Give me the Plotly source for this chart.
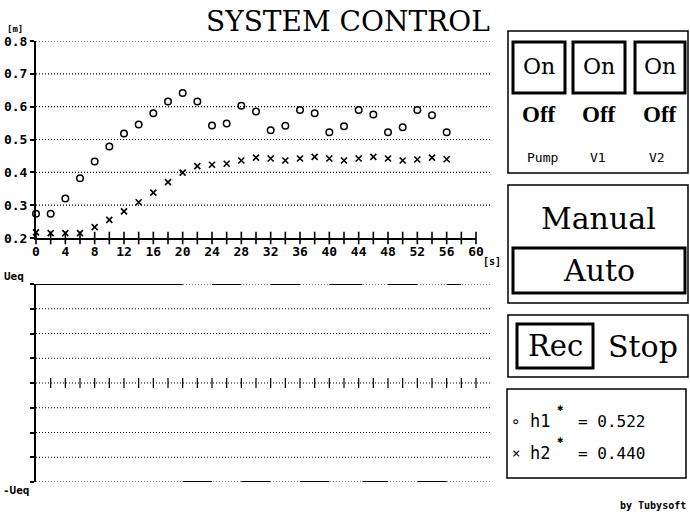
import plotly.graph_objects as go

# ---------------- data ----------------
t = [0, 2, 4, 6, 8, 10, 12, 14, 16, 18, 20, 22, 24, 26, 28,
     30, 32, 34, 36, 38, 40, 42, 44, 46, 48, 50, 52, 54, 56]
h1 = [0.274, 0.274, 0.320, 0.382, 0.433, 0.479, 0.518, 0.546, 0.580, 0.616,
      0.642, 0.616, 0.543, 0.549, 0.603, 0.585, 0.528, 0.542, 0.590, 0.580,
      0.522, 0.540, 0.590, 0.576, 0.522, 0.537, 0.590, 0.574, 0.522]
h2 = [0.217, 0.215, 0.215, 0.215, 0.233, 0.255, 0.281, 0.309, 0.338, 0.370,
      0.399, 0.419, 0.423, 0.426, 0.436, 0.445, 0.442, 0.436, 0.442, 0.447,
      0.442, 0.436, 0.442, 0.447, 0.442, 0.436, 0.439, 0.445, 0.440]
# control signal (bang-bang, +Ueq / -Ueq)
u_switch = [0, 20, 24, 28, 32, 36, 40, 44.5, 48, 52, 56, 58]
u_level = [1, -1, 1, -1, 1, -1, 1, -1, 1, -1, 1]

x_ticks = list(range(0, 61, 4))
x_minor = list(range(0, 61, 2))
y_ticks = [0.2, 0.3, 0.4, 0.5, 0.6, 0.7, 0.8]
y_ticklabels = ["0.2", "0.3", "0.4", "0.5", "0.6", "0.7", "0.8"]
u_grid = [-1, -0.75, -0.5, -0.25, 0, 0.25, 0.5, 0.75, 1]

# ---------------- layout helpers ----------------
W, H = 690, 513
def px(x): return x / W
def py(y): return 1 - y / H

MONO = "DejaVu Sans Mono"
SERIF = "DejaVu Serif"
TIMES = "Liberation Serif"

fig = go.Figure()

# top chart
fig.add_trace(go.Scatter(x=t, y=h1, mode="markers", xaxis="x", yaxis="y",
                         marker=dict(symbol="circle-open", size=6.5, color="black",
                                     line=dict(width=1.5, color="black")),
                         cliponaxis=False))
fig.add_trace(go.Scatter(x=t, y=h2, mode="markers", xaxis="x", yaxis="y",
                         marker=dict(symbol="x-thin-open", size=6, color="black",
                                     line=dict(width=1.6, color="black")),
                         cliponaxis=False))
fig.add_trace(go.Scatter(x=x_minor, y=[0.2] * len(x_minor), mode="markers",
                         xaxis="x", yaxis="y",
                         marker=dict(symbol="line-ns-open", size=9, color="black",
                                     line=dict(width=1.6, color="black")),
                         cliponaxis=False))

# bottom chart
seg_x, seg_y = [], []
for i, lv in enumerate(u_level):
    seg_x += [u_switch[i], u_switch[i + 1], None]
    seg_y += [lv, lv, None]
fig.add_trace(go.Scatter(x=seg_x, y=seg_y, mode="lines", xaxis="x2", yaxis="y2",
                         line=dict(color="black", width=2), cliponaxis=False))
mid_ticks = x_minor[1:]
fig.add_trace(go.Scatter(x=mid_ticks, y=[0] * len(mid_ticks), mode="markers",
                         xaxis="x2", yaxis="y2",
                         marker=dict(symbol="line-ns-open", size=7, color="black",
                                     line=dict(width=1.2, color="black")),
                         cliponaxis=False))

shapes = []
# gridlines
for v in y_ticks[1:]:
    shapes.append(dict(type="line", xref="paper", yref="y", x0=px(36), x1=px(490),
                       y0=v, y1=v, line=dict(color="black", width=1.2, dash="1px,2px"),
                       layer="below"))
for v in u_grid:
    shapes.append(dict(type="line", xref="paper", yref="y2", x0=px(36), x1=px(490),
                       y0=v, y1=v, line=dict(color="black", width=1.2, dash="1px,2px"),
                       layer="below"))

def rect(x0, y0, x1, y1, w):
    shapes.append(dict(type="rect", xref="paper", yref="paper",
                       x0=px(x0), x1=px(x1), y0=py(y1), y1=py(y0),
                       line=dict(color="black", width=w)))

# right panels
rect(508, 31, 688, 173, 1.5)
rect(513, 42, 565, 93, 3)
rect(573, 42, 625, 93, 3)
rect(635, 42, 685, 93, 3)
rect(508, 185, 688, 303, 1.5)
rect(513, 248, 685, 293, 3)
rect(508, 315, 688, 377, 1.5)
rect(517, 324, 593, 368, 3)
rect(507, 389, 686, 478, 1.5)

annotations = []
def ann(text, x, y, size, family=MONO, xanchor="center", bold=False):
    annotations.append(dict(text=text, x=px(x), y=py(y), xref="paper", yref="paper",
                            xanchor=xanchor, yanchor="middle", showarrow=False,
                            font=dict(family=family, size=size, color="black",
                                      weight="bold" if bold else "normal")))

ann("SYSTEM CONTROL", 348, 21, 28, SERIF)
ann("[m]", 5, 29, 9, MONO, "left", True)
ann("[s]", 481, 261, 10, MONO, "left", True)
ann("Ueq", 2, 276, 11, MONO, "left", True)
ann("-Ueq", 1, 490, 11, MONO, "left", True)

for cx in (539, 599, 660):
    ann("On", cx, 67, 22, SERIF)
    ann("Off", cx, 115, 23, TIMES, bold=True)
ann("Pump", 542, 157, 13, MONO)
ann("V1", 598, 157, 13, MONO)
ann("V2", 657, 157, 13, MONO)

ann("Manual", 598, 218, 30, SERIF)
ann("Auto", 599, 270, 30, SERIF)
ann("Rec", 555, 346, 29, SERIF)
ann("Stop", 643, 346, 30, SERIF)

ann("∘", 516, 421, 16, MONO)
ann("h1", 528, 421, 17, MONO, "left")
ann("✱", 555, 407, 10, MONO, "left", True)
ann("= %.3f" % h1[-1], 576, 421, 16, MONO, "left")
ann("×", 516, 453, 14, MONO)
ann("h2", 528, 453, 17, MONO, "left")
ann("✱", 555, 439, 10, MONO, "left", True)
ann("= %.3f" % h2[-1], 576, 453, 16, MONO, "left")

ann("by Tubysoft", 688, 505, 10, MONO, "right", True)

tickfont = dict(family=MONO, size=13, color="black", weight="bold")

fig.update_layout(
    template="none",
    width=W, height=H, margin=dict(l=0, r=0, t=0, b=0, pad=0),
    paper_bgcolor="white", plot_bgcolor="white", showlegend=False,
    xaxis=dict(domain=[px(36), px(476)], range=[0, 60], anchor="y",
               tickvals=x_ticks, ticks="", showline=True, linewidth=2,
               linecolor="black", showgrid=False, zeroline=False,
               tickfont=tickfont, fixedrange=True, automargin=False),
    yaxis=dict(domain=[py(238), py(41)], range=[0.2, 0.8], anchor="x",
               tickvals=y_ticks, ticktext=y_ticklabels, ticks="outside",
               ticklen=4, tickwidth=2, tickcolor="black", showline=True,
               linewidth=2, linecolor="black", showgrid=False, zeroline=False,
               tickfont=tickfont, fixedrange=True, automargin=False),
    xaxis2=dict(domain=[px(36), px(476)], range=[0, 60], anchor="y2",
                visible=False, fixedrange=True, automargin=False),
    yaxis2=dict(domain=[py(482), py(284)], range=[-1, 1], anchor="x2",
                tickvals=u_grid, showticklabels=False, ticks="outside",
                ticklen=4, tickwidth=1.5, tickcolor="black", showline=True,
                linewidth=2, linecolor="black", showgrid=False, zeroline=False,
                fixedrange=True, automargin=False),
    shapes=shapes, annotations=annotations,
)

fig.write_html("out.html", config={"displayModeBar": False},
               post_script="document.body.style.margin='0';"
                           "document.body.style.overflow='hidden';")
